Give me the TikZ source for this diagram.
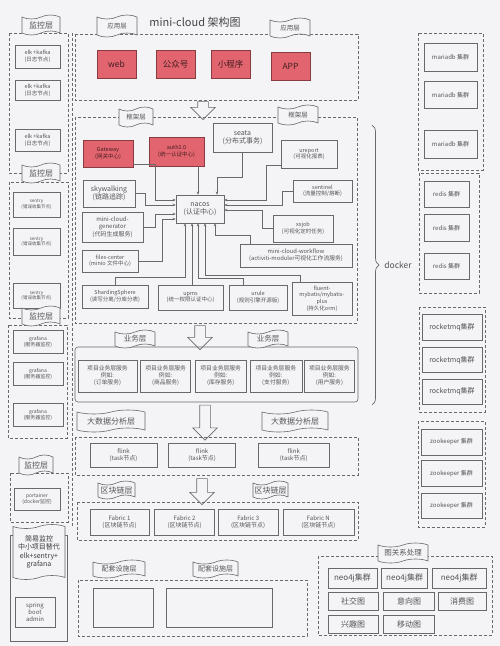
\documentclass[tikz,border=0pt]{standalone}
\usepackage{fontspec}
\setmainfont{Noto Sans CJK SC}
\usetikzlibrary{shapes.symbols, shapes.arrows, arrows.meta, positioning, decorations.pathreplacing}
\definecolor{bgcol}{RGB}{244,244,247}
\definecolor{linegray}{RGB}{105,105,105}
\definecolor{textgray}{RGB}{85,85,85}
\definecolor{appred}{RGB}{226,100,110}
\tikzstyle{arrow} = [->, >={Stealth[length=3pt, width=2.6pt]}, draw=linegray, line width=0.5pt]

\begin{document}
\begin{tikzpicture}[x=1pt, y=-1pt, every node/.style={text=textgray}]
    % Define styles with \tikzset
    \tikzset{
        box/.style={rectangle, draw=linegray, line width=0.6pt, text=textgray, align=center, inner sep=1pt, font=\fontsize{#1}{\fpeval{1.2*#1}}\selectfont},
        box/.default=5.5,
        redbox/.style={box=#1, fill=appred, draw=appred!60!black, text=appred!30!black},
        redbox/.default=5.5,
        sz/.style 2 args={minimum width=#1pt, minimum height=#2pt},
        grp/.style={draw=linegray, line width=0.6pt, dash pattern=on 3pt off 2pt},
        banner/.style={tape, draw=linegray, fill=bgcol, line width=0.6pt, tape bend height=4pt, inner sep=0pt, align=center, font=\fontsize{#1}{\fpeval{1.2*#1}}\selectfont},
        bigarrow/.style={single arrow, draw=linegray, fill=bgcol, line width=0.6pt, shape border rotate=270, inner sep=5pt, single arrow head extend=7pt, minimum height=#1pt}
    }
    \useasboundingbox (0,0) rectangle (500,646);
    \fill[bgcol] (0,0) rectangle (500,646);

    % --- MONITORING COLUMN ---
    \draw[grp] (9,33) rectangle (68,173);
    \node (elk1) [box, sz={45}{23}] at (37.5,56.5) {elk +kafka\\(日志节点)};
    \node (elk2) [box, sz={45}{20}, below=12pt of elk1] {elk +kafka\\(日志节点)};
    \node (elk3) [box, sz={45}{22}, below=28pt of elk2] {elk +kafka\\(日志节点)};
    \node (mon1) [banner=8, sz={38}{20}] at (41,25) {监控层};

    \draw[grp] (9,182) rectangle (68,318);
    \node (sen1) [box=4.5, sz={47}{25}] at (36.5,204.5) {sentry\\(错误收集节点)};
    \node (sen2) [box=4.5, sz={47}{27}, below=11pt of sen1] {sentry\\(错误收集节点)};
    \node (sen3) [box=4.5, sz={47}{25}, below=27pt of sen2] {sentry\\(错误收集节点)};
    \node (mon2) [banner=8, sz={38}{20}] at (41,173) {监控层};

    \draw[grp] (8,325) rectangle (67,438);
    \node (gra1) [box=5, sz={50}{23}] at (38,341.5) {grafana\\(服务器监控)};
    \node (gra2) [box=5, sz={50}{23}, below=9pt of gra1] {grafana\\(服务器监控)};
    \node (gra3) [box=5, sz={50}{23}, below=17pt of gra2] {grafana\\(服务器监控)};
    \node (mon3) [banner=8, sz={38}{20}] at (41,316) {监控层};

    \draw[grp] (10,473) rectangle (68,522);
    \node (port) [box=5, sz={46}{22}] at (37,499) {portainer\\(docker监控)};
    \node (mon4) [banner=8, sz={34}{20}] at (36,465) {监控层};

    \draw[linegray, line width=0.6pt] (10,535) rectangle (67,641);
    \node (easy) [banner=7, sz={52}{55}, text=textgray!70!black] at (39,552) {简易监控\\中小项目替代\\elk+sentry+\\grafana};
    \node (sba) [box=6, sz={40}{30}] at (35,612) {spring\\boot\\admin};

    \draw[grp] (72,33) -- (72,527);

    % --- APPLICATION LAYER ---
    \node (title) [font=\fontsize{11}{13}\selectfont, text=textgray!80!black] at (195,22) {mini-cloud 架构图};
    \draw[grp] (75,34) rectangle (358,100);
    \node (app1) [banner=6.5, sz={40}{22}] at (117,26) {应用层};
    \node (app2) [banner=6.5, sz={40}{20}] at (290,28) {应用层};
    \node (web) [redbox=8.5, sz={39}{28}] at (116.5,64) {web};
    \node (gzh) [redbox=8.5, sz={39}{28}] at (175.5,64) {公众号};
    \node (xcx) [redbox=8.5, sz={39}{28}] at (230.5,64) {小程序};
    \node (appx) [redbox=8.5, sz={39}{28}] at (290.5,66) {APP};

    % --- FRAMEWORK LAYER ---
    \node (a1) [bigarrow=18] at (203,108) {};
    \draw[grp] (75,117) rectangle (357,323);
    \node (fw1) [banner=6.5, sz={34}{20}] at (136,117) {框架层};
    \node (fw2) [banner=6.5, sz={40}{20}] at (298,115) {框架层};

    \node (gw) [redbox, sz={50}{27}] at (108,153.5) {Gateway\\(网关中心)};
    \node (auth) [redbox, sz={55}{29}] at (176.5,151.5) {auth2.0\\(统一认证中心)};
    \node (seata) [box=7, sz={59}{29}] at (242.5,137.5) {seata\\(分布式事务)};
    \node (urep) [box, sz={56}{28}] at (309,154) {ureport\\(可视化报表)};
    \node (sky) [box=7, sz={52}{27}] at (109,193.5) {skywalking\\(链路追踪)};
    \node (sent) [box, sz={59}{22}] at (322.5,191) {sentinel\\(流量控制/熔断)};
    \node (nacos) [box=7, sz={48}{28}] at (200,209) {nacos\\(认证中心)};
    \node (gen) [box=6, sz={61}{30}] at (112.5,227) {mini-cloud-\\generator\\(代码生成服务)};
    \node (xxjob) [box, sz={60}{27}] at (303,228.5) {xxjob\\(可视化定时任务)};
    \node (files) [box, sz={56}{22}] at (110,261) {files-center\\(minio 文件中心)};
    \node (flow) [box=5.8, sz={112}{23}] at (296,255.5) {mini-cloud-workflow\\(activiti-moduler可视化工作流服务)};
    \node (shard) [box, sz={66}{23}] at (115,296.5) {ShardingSphere\\(读写分离/分库分表)};
    \node (upms) [box, sz={65}{25}] at (190.5,297.5) {upms\\(统一权限认证中心)};
    \node (urule) [box, sz={58}{25}] at (258,297.5) {urule\\(规则引擎开源版)};
    \node (fluent) [box, sz={60}{33}] at (322,298.5) {fluent-\\mybatis/mybatis-\\plus\\(持久化orm)};

    % Connections to nacos
    \draw[arrow] ([yshift=3pt]gw.south east) -- ++(22,0) |- ([yshift=9pt]nacos.west);
    \draw[arrow] (sky.east) -- ++(10,0) |- ([yshift=4pt]nacos.west);
    \draw[arrow] (gen.east) -- ++(12,0) |- ([yshift=-5pt]nacos.west);
    \draw[arrow] (files.east) -- ++(24,0) |- ([yshift=-10pt]nacos.west);
    \draw[arrow] ([xshift=21.5pt]auth.south) -- ([xshift=-2pt]nacos.north);
    \draw[arrow] (seata.south) -- ++(0,25) -| ([xshift=17pt]nacos.north);
    \draw[arrow] ([yshift=3pt]urep.south west) -- ++(-14,0) |- ([yshift=9pt]nacos.east);
    \draw[arrow] (sent.west) -- ++(-10,0) |- ([yshift=4pt]nacos.east);
    \draw[arrow] (xxjob.west) -- ++(-10,0) |- ([yshift=-1pt]nacos.east);
    \draw[arrow] (shard.north) -- ++(0,-7) -| ([xshift=-15pt]nacos.south);
    \draw[arrow] ([xshift=1.5pt]upms.north) -- ([xshift=-8pt]nacos.south);
    \draw[arrow] ([xshift=-15pt]urule.north) -- ++(0,-6) -| ([xshift=-2pt]nacos.south);
    \draw[arrow] ([xshift=-22pt]fluent.north) -- ++(0,-6) -| ([xshift=5pt]nacos.south);
    \draw[arrow] ([xshift=-46pt]flow.north) -- ++(0,-8) -| ([xshift=15pt]nacos.south);

    % --- BUSINESS LAYER ---
    \node (a2) [bigarrow=24] at (200,335) {};
    \draw[linegray, line width=0.6pt, rounded corners=3pt] (75,347) rectangle (358,402);
    \node (biz1) [banner=7.5, sz={40}{18}] at (135,339) {业务层};
    \node (biz2) [banner=7.5, sz={40}{18}] at (268,339) {业务层};
    \node (svc1) [box=5.8, sz={59}{32}] at (107.5,376) {项目业务层服务\\例如:\\(订单服务)};
    \node (svc2) [box=5.8, sz={50}{32}, right=3pt of svc1] {项目业务层服务\\例如:\\(商品服务)};
    \node (svc3) [box=5.8, sz={51}{32}, right=4pt of svc2] {项目业务层服务\\例如:\\(库存服务)};
    \node (svc4) [box=5.8, sz={52}{32}, right=3pt of svc3] {项目业务层服务\\例如:\\(支付服务)};
    \node (svc5) [box=5.8, sz={50}{32}, right=2pt of svc4] {项目业务层服务\\例如:\\(用户服务)};

    % --- BIG DATA LAYER ---
    \node (a3) [bigarrow=35] at (205,420) {};
    \draw[grp] (75,437) rectangle (358,475);
    \node (bd1) [banner=8, sz={68}{22}] at (111,421) {大数据分析层};
    \node (bd2) [banner=8, sz={66}{22}] at (295,421) {大数据分析层};
    \node (flink1) [box=6, sz={67}{24}] at (123.5,455) {flink\\(task节点)};
    \node (flink2) [box=6, sz={67}{24}, right=11pt of flink1] {flink\\(task节点)};
    \node (flink3) [box=6, sz={71}{24}, right=22pt of flink2] {flink\\(task节点)};

    % --- BLOCKCHAIN LAYER ---
    \node (a4) [bigarrow=26] at (202,489) {};
    \draw[grp] (77,502) rectangle (358,540);
    \node (bc1) [banner=8, sz={37}{18}] at (116.5,490) {区块链层};
    \node (bc2) [banner=8, sz={35}{18}] at (270.5,490) {区块链层};
    \node (fab1) [box=6, sz={59}{26}] at (119.5,522) {Fabric 1\\(区块链节点)};
    \node (fab2) [box=6, sz={60}{26}, right=5pt of fab1] {Fabric 2\\(区块链节点)};
    \node (fab3) [box=6, sz={60}{26}, right=3pt of fab2] {Fabric 3\\(区块链节点)};
    \node (fab4) [box=6, sz={71}{26}, right=4pt of fab3] {Fabric N\\(区块链节点)};

    % --- SUPPORT LAYER ---
    \draw[grp] (78,580) rectangle (307,636);
    \node (sup1) [banner=7, sz={52}{18}] at (119,569) {配套设施层};
    \node (sup2) [banner=7, sz={45}{18}] at (215.5,569) {配套设施层};
    \node (supA) [box, sz={60}{39}] at (123,607.5) {};
    \node (supB) [box, sz={106}{39}] at (219,607.5) {};

    % --- DOCKER COLUMN ---
    \draw[linegray, line width=0.7pt, decorate, decoration={brace, amplitude=7pt}] (372,125) -- (372,405);
    \node (docker) [font=\fontsize{8.5}{10}\selectfont] at (398,265) {docker};

    \draw[grp] (418,33) rectangle (483,170);
    \node (maria1) [box=6, sz={53}{28}] at (450.5,57) {mariadb 集群};
    \node (maria2) [box=6, sz={53}{27}, below=10pt of maria1] {mariadb 集群};
    \node (maria3) [box=6, sz={53}{28}, below=21pt of maria2] {mariadb 集群};

    \draw[grp] (419,173) rectangle (479,293);
    \node (redis1) [box=6, sz={45}{26}] at (446.5,194) {redis 集群};
    \node (redis2) [box=6, sz={45}{27}, below=7pt of redis1] {redis 集群};
    \node (redis3) [box=6, sz={45}{26}, below=11pt of redis2] {redis 集群};

    \draw[grp] (419,307) rectangle (485,412);
    \node (rmq1) [box=7, sz={60}{26}] at (452,327) {rocketmq集群};
    \node (rmq2) [box=7, sz={60}{25}, below=7pt of rmq1] {rocketmq集群};
    \node (rmq3) [box=7, sz={60}{25}, below=6pt of rmq2] {rocketmq集群};

    \draw[grp] (418,421) rectangle (485,527);
    \node (zk1) [box=6, sz={61}{26}] at (451.5,442) {zookeeper 集群};
    \node (zk2) [box=6, sz={61}{26}, below=5pt of zk1] {zookeeper 集群};
    \node (zk3) [box=6, sz={61}{25}, below=6pt of zk2] {zookeeper 集群};

    % --- GRAPH LAYER ---
    \draw[grp] (318,556) rectangle (492,635);
    \node (graph) [banner=7.5, sz={50}{20}] at (403,553) {图关系处理};
    \node (neo1) [box=8, sz={49}{20}] at (352.5,578) {neo4j集群};
    \node (neo2) [box=8, sz={46}{20}, right=4pt of neo1] {neo4j集群};
    \node (neo3) [box=8, sz={54}{20}, right=4pt of neo2] {neo4j集群};
    \node (social) [box=8, sz={50}{18}] at (353,601) {社交图};
    \node (intent) [box=8, sz={51}{18}, right=5pt of social] {意向图};
    \node (spend) [box=8, sz={48}{18}, right=3pt of intent] {消费图};
    \node (hobby) [box=8, sz={50}{18}, below=5pt of social] {兴趣图};
    \node (move) [box=8, sz={51}{18}, below=5pt of intent] {移动图};

\end{tikzpicture}
\end{document}
